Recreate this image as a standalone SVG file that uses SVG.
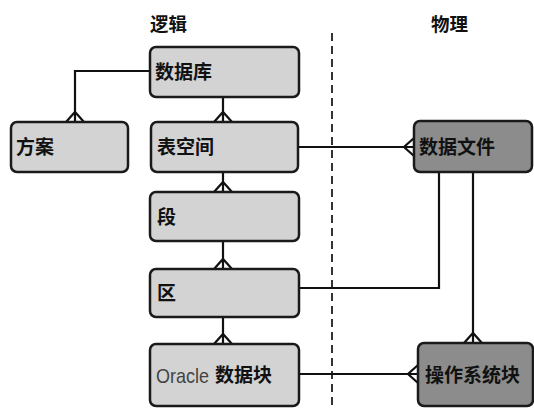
<svg xmlns="http://www.w3.org/2000/svg" width="534" height="409" viewBox="0 0 534 409">
<style>
.box{fill:#d3d3d3;stroke:#1a1a1a;stroke-width:2.5}
.phys{fill:#8c8c8c;stroke:#1a1a1a;stroke-width:2.5}
.t{font-family:"Noto Sans CJK SC","Liberation Sans",sans-serif;font-size:19px;font-weight:bold;fill:#111}
.h{font-family:"Noto Sans CJK SC","Liberation Sans",sans-serif;font-size:18.5px;font-weight:bold;fill:#111}
.o{font-family:"Liberation Sans",Arial,sans-serif;font-size:21px;fill:#444}
.c{fill:none;stroke:#111;stroke-width:2.2}
.d{fill:none;stroke:#333;stroke-width:2;stroke-dasharray:8,5}
</style>
<rect width="534" height="409" fill="#fff"/>
<text class="h" x="150" y="31">逻辑</text>
<text class="h" x="431" y="31">物理</text>
<line class="d" x1="332" y1="33" x2="332" y2="409"/>
<g id="connectors">
<path class="c" d="M150,71 H75 V122 M66,122 L75,112 L84,122"/>
<path class="c" d="M223,97 V122 M214,122 L223,112 L232,122"/>
<path class="c" d="M223,172 V192 M214,192 L223,182 L232,192"/>
<path class="c" d="M223,241 V269 M214,269 L223,259 L232,269"/>
<path class="c" d="M223,317 V344 M214,344 L223,334 L232,344"/>
<path class="c" d="M298,147 H414 M414,138 L404,147 L414,156"/>
<path class="c" d="M439,172 V288 H299"/>
<path class="c" d="M473,172 V343 M464,343 L473,333 L482,343"/>
<path class="c" d="M299,374 H418 M418,365 L408,374 L418,383"/>
</g>
<g id="n-db"><rect class="box" x="150" y="47" width="149" height="50" rx="6"/><text class="t" x="155" y="79">数据库</text></g>
<g id="n-schema"><rect class="box" x="11" y="122" width="117" height="50" rx="6"/><text class="t" x="16" y="154">方案</text></g>
<g id="n-ts"><rect class="box" x="151" y="122" width="147" height="50" rx="6"/><text class="t" x="157" y="154">表空间</text></g>
<g id="n-seg"><rect class="box" x="150" y="192" width="149" height="49" rx="6"/><text class="t" x="157" y="224">段</text></g>
<g id="n-ext"><rect class="box" x="150" y="269" width="149" height="48" rx="6"/><text class="t" x="157" y="300">区</text></g>
<g id="n-blk"><rect class="box" x="150" y="344" width="149" height="62" rx="6"/><text class="o" x="156" y="383" textLength="53" lengthAdjust="spacingAndGlyphs">Oracle</text><text class="t" x="215" y="382">数据块</text></g>
<g id="n-df"><rect class="phys" x="414" y="121" width="118" height="51" rx="6"/><text class="t" x="419" y="154">数据文件</text></g>
<g id="n-osb"><rect class="phys" x="418" y="343" width="115" height="63" rx="6"/><text class="t" x="425" y="382">操作系统块</text></g>
</svg>
